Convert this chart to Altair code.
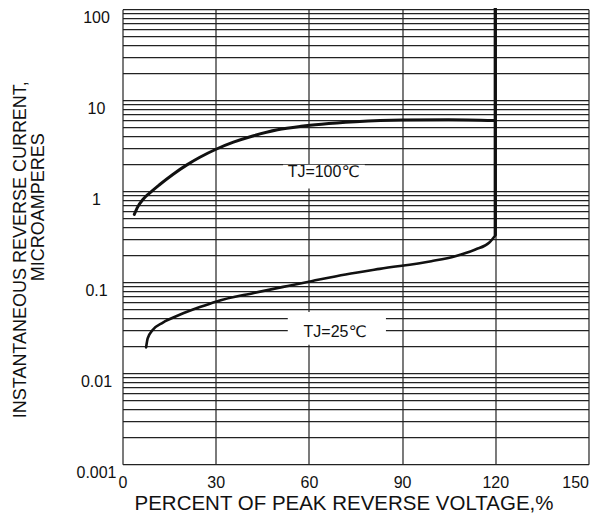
import altair as alt
import pandas as pd

# ---- data ----
x_tj100 = [3.8, 4.9, 6.5, 8.7, 11.9, 16.2, 20.6, 24.9, 30.1, 35.7, 42.2, 49.9, 57.5, 64.1, 75.0, 90.0, 105.0, 120.0]
y_tj100 = [0.556, 0.673, 0.806, 0.952, 1.178, 1.529, 1.934, 2.359, 2.891, 3.455, 4.073, 4.737, 5.170, 5.452, 5.787,
           6.05, 6.10, 5.97]

x_tj25 = [7.6, 8.1, 9.7, 13.0, 18.4, 24.9, 30.3, 42.3, 53.2, 60.8, 71.8, 82.8, 99.4, 107.1, 113.6, 118.0, 120.0]
y_tj25 = [0.0192, 0.0241, 0.0298, 0.036, 0.0438, 0.0533, 0.0615, 0.0762, 0.0910, 0.1026, 0.1216, 0.140, 0.170,
          0.193, 0.229, 0.271, 0.326]

x_rise = [120.0, 120.0]
y_rise = [0.326, 105.0]

label_text = ["TJ=100\u2103", "TJ=25\u2103"]
label_x = [64.7, 68.4]
label_y = [1.62, 0.0285]
box_x1 = [51.7, 53.2]
box_x2 = [78.0, 84.8]
box_y1 = [1.07, 0.0205]
box_y2 = [1.95, 0.047]

x_ticks = [0, 30, 60, 90, 120, 150]
y_grid = [round(m * 10 ** k, 6) for k in range(-3, 2) for m in range(1, 10)] + [100]

FONT = "Liberation Sans, Arial, DejaVu Sans, sans-serif"
INK = "#111111"

xscale = alt.Scale(domain=[0, 150], nice=False, zero=False)
yscale = alt.Scale(type="log", domain=[0.001, 100], nice=False)

xaxis = alt.Axis(
    values=x_ticks, grid=True, gridColor="#222222", gridWidth=1.2, gridOpacity=1,
    domain=False, ticks=False, tickSize=0, labelFlush=False, labelOverlap=False,
    labelAlign={"condition": {"test": "datum.value == 150", "value": "right"}, "value": "center"},
    labelFont=FONT, labelFontSize=16, labelColor=INK, labelPadding=10,
    title="PERCENT OF PEAK REVERSE VOLTAGE,%", titleFont=FONT, titleFontSize=20.5,
    titleFontWeight="normal", titleColor=INK, titleX=221, titleY=45,
    titleAlign="center", titleBaseline="alphabetic",
)
yaxis_main = alt.Axis(
    orient="left",
    values=y_grid, grid=True, gridColor="#222222", gridWidth=1.2, gridOpacity=1,
    domain=False, ticks=False, tickSize=0, labelOverlap=False, labelBound=False,
    format="~g",
    labelExpr="abs(log(datum.value)/LN10 - round(log(datum.value)/LN10)) < 0.000001 ? datum.label : ''",
    labelFont=FONT, labelFontSize=16, labelColor=INK, labelAlign="center",
    labelBaseline="middle", labelPadding=26.5, labelOffset=8,
    title="INSTANTANEOUS REVERSE CURRENT,",
    titleFont=FONT, titleFontSize=18, titleFontWeight="normal", titleColor=INK,
    titleAngle=270, titleAlign="center", titleBaseline="alphabetic",
    titleX=-97.5, titleY=240,
)
yaxis_second = alt.Axis(
    orient="left",
    values=y_grid, grid=False, domain=False, ticks=False, tickSize=0, labels=False,
    title="MICROAMPERES",
    titleFont=FONT, titleFontSize=18, titleFontWeight="normal", titleColor=INK,
    titleAngle=270, titleAlign="center", titleBaseline="alphabetic",
    titleX=-79.2, titleY=197.5,
)

df100 = pd.DataFrame({"x": x_tj100, "y": y_tj100})
df25 = pd.DataFrame({"x": x_tj25, "y": y_tj25})
dfrise = pd.DataFrame({"x": x_rise, "y": y_rise})
dflab = pd.DataFrame({"text": label_text, "x": label_x, "y": label_y,
                      "x1": box_x1, "x2": box_x2, "y1": box_y1, "y2": box_y2})

boxes = alt.Chart(dflab).mark_rect(color="white").encode(
    x=alt.X("x1:Q", scale=xscale, axis=xaxis), x2="x2:Q",
    y=alt.Y("y1:Q", scale=yscale, axis=yaxis_main), y2="y2:Q",
)
texts = alt.Chart(dflab).mark_text(
    font=FONT, fontSize=16, color=INK, align="center", baseline="middle"
).encode(
    x=alt.X("x:Q", scale=xscale, axis=xaxis),
    y=alt.Y("y:Q", scale=yscale, axis=yaxis_second),
    text="text:N",
)
line100 = alt.Chart(df100).mark_line(
    color=INK, strokeWidth=3, interpolate="monotone", strokeCap="round"
).encode(
    x=alt.X("x:Q", scale=xscale, axis=xaxis),
    y=alt.Y("y:Q", scale=yscale, axis=None),
)
line25 = alt.Chart(df25).mark_line(
    color=INK, strokeWidth=2.6, interpolate="monotone", strokeCap="round"
).encode(
    x=alt.X("x:Q", scale=xscale, axis=xaxis),
    y=alt.Y("y:Q", scale=yscale, axis=None),
)
rise = alt.Chart(dfrise).mark_line(color=INK, strokeWidth=3.3).encode(
    x=alt.X("x:Q", scale=xscale, axis=xaxis),
    y=alt.Y("y:Q", scale=yscale, axis=None),
)

chart = alt.layer(boxes, texts, line100, line25, rise).resolve_axis(y="independent").properties(
    width=466, height=455,
    autosize=alt.AutoSizeParams(type="none"),
    padding={"left": 114.5, "top": 1.2, "right": 8, "bottom": 52},
    background="white",
).configure_view(stroke=None)

chart.save("out.html", embed_options={"renderer": "svg", "actions": False})
